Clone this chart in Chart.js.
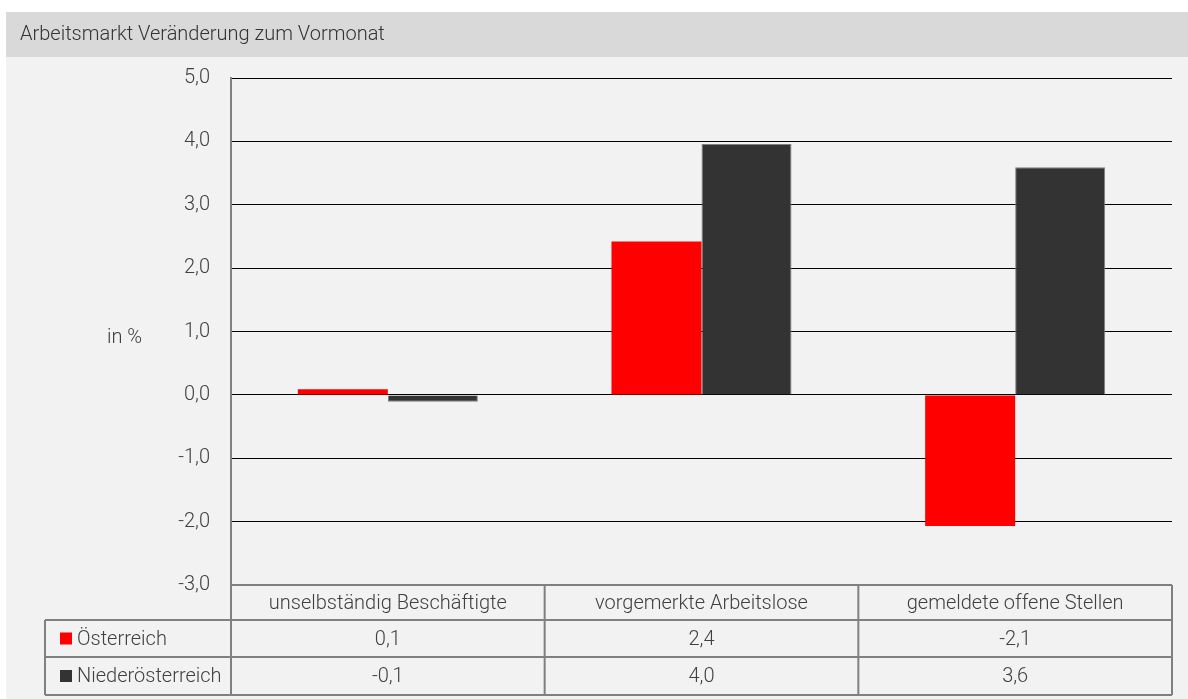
<!DOCTYPE html>
<html>
<head>
<meta charset="utf-8">
<script src="https://cdn.jsdelivr.net/npm/chart.js@4"></script>
<style>
  html, body { margin: 0; padding: 0; background: #ffffff; }
  #wrap { width: 1188px; height: 699px; position: relative; }
</style>
</head>
<body>
<div id="wrap"><canvas id="myChart" width="1188" height="699"></canvas></div>
<script>
// Kategorien und Werte
const kategorien = ['unselbständig Beschäftigte', 'vorgemerkte Arbeitslose', 'gemeldete offene Stellen'];
const oesterreich = [0.09, 2.42, -2.07];
const niederoesterreich = [-0.11, 3.96, 3.59];
// Beschriftungen der Tabelle unter dem Diagramm
const tabelleOesterreich = ['0,1', '2,4', '-2,1'];
const tabelleNiederoesterreich = ['-0,1', '4,0', '3,6'];
const titel = 'Arbeitsmarkt Veränderung zum Vormonat';
const achsenTitel = 'in %';

const schriftFamilie = 'Roboto, "Open Sans", sans-serif';
const schrift = '300 20px ' + schriftFamilie;
const textFarbe = '#404040';
const linienFarbe = '#808080';

// Hintergrund, Kopfzeile und Tabelle zeichnen
const rahmenPlugin = {
    id: 'rahmen',
    beforeDraw(chart) {
        const c = chart.ctx;
        c.save();
        c.fillStyle = '#f2f2f2';
        c.fillRect(6, 57, chart.width - 6, chart.height - 57);
        c.fillStyle = '#d9d9d9';
        c.fillRect(6, 12, chart.width - 6, 45);
        c.fillStyle = '#333333';
        c.font = schrift;
        c.textBaseline = 'middle';
        c.textAlign = 'left';
        c.fillText(titel, 20, 35);
        c.fillStyle = textFarbe;
        c.fillText(achsenTitel, 107, 338);
        c.restore();
    },
    afterDraw(chart) {
        const c = chart.ctx;
        const a = chart.chartArea;
        const breite = (a.right - a.left) / kategorien.length;
        const zeilen = [a.bottom, 620, 657, 695];
        const links = 45;
        c.save();
        c.strokeStyle = linienFarbe;
        c.lineWidth = 2;
        c.beginPath();
        c.moveTo(a.left, zeilen[0]); c.lineTo(a.right, zeilen[0]);
        for (let i = 1; i < zeilen.length; i++) {
            c.moveTo(links, zeilen[i]); c.lineTo(a.right, zeilen[i]);
        }
        c.moveTo(links, zeilen[1]); c.lineTo(links, zeilen[3]);
        for (let i = 0; i <= kategorien.length; i++) {
            const x = a.left + i * breite;
            c.moveTo(x, zeilen[0]); c.lineTo(x, zeilen[3]);
        }
        c.stroke();

        c.font = schrift;
        c.fillStyle = textFarbe;
        c.textBaseline = 'middle';
        c.textAlign = 'center';
        kategorien.forEach((k, i) => {
            const x = a.left + (i + 0.5) * breite;
            c.fillText(k, x, (zeilen[0] + zeilen[1]) / 2 + 1);
            c.fillText(tabelleOesterreich[i], x, (zeilen[1] + zeilen[2]) / 2 + 1);
            c.fillText(tabelleNiederoesterreich[i], x, (zeilen[2] + zeilen[3]) / 2 + 1);
        });

        // Legende in der ersten Spalte
        const eintraege = [
            { text: 'Österreich', farbe: '#ff0000', y: (zeilen[1] + zeilen[2]) / 2 },
            { text: 'Niederösterreich', farbe: '#333333', y: (zeilen[2] + zeilen[3]) / 2 }
        ];
        c.textAlign = 'left';
        eintraege.forEach(e => {
            c.fillStyle = e.farbe;
            c.fillRect(60, e.y - 6, 12, 12);
            c.fillStyle = textFarbe;
            c.fillText(e.text, 77, e.y + 1);
        });
        c.restore();
    }
};

const ctx = document.getElementById('myChart').getContext('2d');
const myChart = new Chart(ctx, {
    type: 'bar',
    data: {
        labels: kategorien,
        datasets: [{
            label: 'Österreich',
            data: oesterreich,
            backgroundColor: '#ff0000',
            borderWidth: 0
        }, {
            label: 'Niederösterreich',
            data: niederoesterreich,
            backgroundColor: '#333333',
            borderColor: '#7f7f7f',
            borderWidth: 1
        }]
    },
    options: {
        responsive: false,
        animation: false,
        events: [],
        datasets: {
            bar: {
                categoryPercentage: 0.574,
                barPercentage: 1.0
            }
        },
        plugins: {
            legend: { display: false },
            tooltip: { enabled: false },
            title: { display: false }
        },
        layout: {
            padding: { top: 78, right: 16, bottom: 114, left: 0 }
        },
        scales: {
            x: {
                display: false
            },
            y: {
                min: -3,
                max: 5,
                afterFit: (scale) => { scale.width = 231; },
                ticks: {
                    stepSize: 1,
                    padding: 21,
                    color: textFarbe,
                    font: { family: schriftFamilie, size: 20, weight: 300 },
                    callback: (value) => value.toFixed(1).replace('.', ',')
                },
                grid: {
                    drawTicks: false,
                    lineWidth: 1,
                    color: (c) => (c.tick && c.tick.value === -3) ? 'rgba(0,0,0,0)' : '#000000'
                },
                border: {
                    display: true,
                    color: linienFarbe,
                    width: 2
                }
            }
        }
    },
    plugins: [rahmenPlugin]
});
</script>
</body>
</html>
